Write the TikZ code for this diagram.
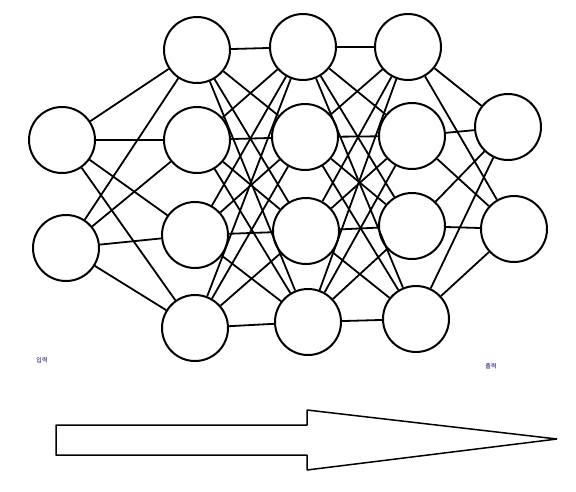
\documentclass[tikz,border=0pt]{standalone}
\usepackage{fontspec}
\newfontfamily\krfont{Noto Sans CJK KR}
\begin{document}
\begin{tikzpicture}[x=1pt,y=-1pt,
  neuron/.style={circle,draw=black,line width=2pt,minimum size=66pt,inner sep=0pt},
  conn/.style={draw=black,line width=1.8pt},
  lbl/.style={font=\krfont\fontsize{6}{7}\selectfont,text=black!60!blue,inner sep=0pt}]
\useasboundingbox (0,0) rectangle (576,491);
% input layer
\node[neuron] (i1) at (62,140) {};
\node[neuron] (i2) at (66,248) {};
% hidden 1
\node[neuron] (a1) at (197,50) {};
\node[neuron] (a2) at (197,140) {};
\node[neuron] (a3) at (195,235) {};
\node[neuron] (a4) at (195,328) {};
% hidden 2
\node[neuron] (b1) at (303,47) {};
\node[neuron] (b2) at (305,137) {};
\node[neuron] (b3) at (306,231) {};
\node[neuron] (b4) at (308,322) {};
% hidden 3
\node[neuron] (c1) at (408,47) {};
\node[neuron] (c2) at (412,136) {};
\node[neuron] (c3) at (412,226) {};
\node[neuron] (c4) at (416,319) {};
% output
\node[neuron] (o1) at (508,127) {};
\node[neuron] (o2) at (514,229) {};
% connections
\foreach \s in {i1,i2}{\foreach \t in {a1,a2,a3,a4}{\draw[conn] (\s) -- (\t);}}
\foreach \s in {a1,a2,a3,a4}{\foreach \t in {b1,b2,b3,b4}{\draw[conn] (\s) -- (\t);}}
\foreach \s in {b1,b2,b3,b4}{\foreach \t in {c1,c2,c3,c4}{\draw[conn] (\s) -- (\t);}}
\foreach \s in {c1,c2,c3,c4}{\foreach \t in {o1,o2}{\draw[conn] (\s) -- (\t);}}
% labels
\node[lbl] (lin) at (42,360) {입력};
\node[lbl] (lout) at (491,366) {출력};
% big arrow
\draw[line width=1.5pt,line join=bevel] (56,425) -- (307,425) -- (307,410) -- (557,439) -- (307,470) -- (307,455) -- (56,455) -- cycle;
\end{tikzpicture}
\end{document}
